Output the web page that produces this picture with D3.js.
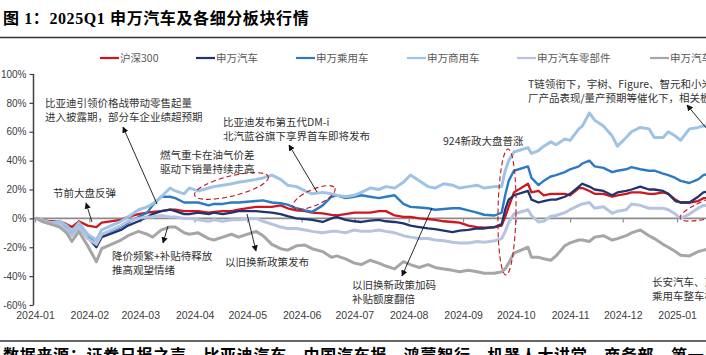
<!DOCTYPE html>
<html><head><meta charset="utf-8">
<script src="https://cdn.jsdelivr.net/npm/d3@7"></script>
<style>
html,body{margin:0;padding:0;background:#fff;overflow:hidden}
svg{display:block}
</style></head>
<body>
<svg id="chart" width="706" height="355"></svg>
<script>
const dates = ["2024-01-02","2024-01-05","2024-01-10","2024-01-15","2024-01-19","2024-01-22","2024-01-26","2024-01-31","2024-02-05","2024-02-08","2024-02-19","2024-02-23","2024-02-29",
"2024-03-05","2024-03-08","2024-03-13","2024-03-18","2024-03-21","2024-03-26","2024-03-29","2024-04-03","2024-04-09","2024-04-12","2024-04-17","2024-04-22","2024-04-26",
"2024-05-06","2024-05-10","2024-05-15","2024-05-20","2024-05-24","2024-05-29","2024-06-03","2024-06-07","2024-06-13","2024-06-18","2024-06-21","2024-06-26",
"2024-07-01","2024-07-05","2024-07-10","2024-07-15","2024-07-19","2024-07-24","2024-07-29","2024-08-02","2024-08-07","2024-08-12","2024-08-16","2024-08-21","2024-08-26","2024-08-30",
"2024-09-04","2024-09-09","2024-09-13","2024-09-19","2024-09-23","2024-09-25","2024-09-27","2024-09-30","2024-10-08","2024-10-10","2024-10-14","2024-10-17","2024-10-21","2024-10-24","2024-10-29",
"2024-11-01","2024-11-06","2024-11-08","2024-11-12","2024-11-15","2024-11-20","2024-11-25","2024-11-28","2024-12-03","2024-12-06","2024-12-11","2024-12-16","2024-12-19","2024-12-24","2024-12-27","2024-12-31",
"2025-01-03","2025-01-08","2025-01-13","2025-01-16","2025-01-20","2025-01-23"];

const hs300 = [0,-1,-2,-2,-4,-6,-2,-5,-6,-3,-1,1,3,
4,4.5,5,6,6,5,5,5,4,4.5,5,5,6,
8,8,8,9,7,5.5,5,4,3.5,2.5,2,3,
4,4,4,5,5,2,1,1,0,-0.5,-1,-2,-2.5,-3,
-5,-6,-6.5,-6,-5,1,8,18,24,18,19,16,17,17,17,
16,21,21,19,17,17,15,16,17,18,18,17,17,18,17,13,
11,11,12,14,14,15];

const swAuto = [0,-2,-4,-4,-7,-11,-6,-13,-20,-13,-8,-5,-2,
1,3,5,6,5,3,3,4,3,4,3,4,5,
5,4.5,4,3,1.5,0,-0.5,-1,-2.5,0,1,-1,
-2,-2.5,-1.5,-1,-2,-2.5,-3.5,-5,-6,-7,-7.5,-8.5,-9.5,-8.5,
-8,-7,-7,-6,-4,6,13,16,19,13,11,12,13,13,15,
17,22,24,22,20,19,16,18,19,20,22,20,20,19,17,12,
11,11,15,18,19,20];

const swPassenger = [0,-2,-4,-4,-7,-11,-5,-12,-18,-11,-6,-3,1,
4,9,15,15,14,11,11,11,9,10,10,11,11,
12,12.5,11,10.5,9.5,7,5.5,4.5,9,15,16,14,
15,16,15,14,15,16,10,8,7.5,7,6,6.5,7,7,
5.5,4,2.5,2,4,16,26,33,36,28,23,26,29,30,32,
34,36,38,40,36,35,32,33,34,35.5,34,33,33,31,30,28,
26,24.5,27,30,31,32];

const swCommercial = [0,-1,-3,-2,-5,-9,-3,-11,-15,-8,-2,1,6,
8,10,15,21,19,17,21,19,21,22,23,24,25,
27,28,30,27,23,22,19,17,18,17,16,15,
16,18,21,20,22,21,25,30,26,22,21,24,23,21,
22,23,21,22,22,33,40,46,49,45,47,50,53,51,55,
54,62,64,73,68,64,57,50,56,60,63,62,56,56,60,57,
54,62,63,64,65,66];

const swParts = [0,-2,-4,-4,-8,-12,-6,-14,-18,-11,-5,-2,0,
1,1,2,1,1,0,0,-1,-2,-1,-2,-1,-1,
0,-2,-4,-6,-7,-7,-8,-9,-10,-9,-9,-10,
-8,-9,-9,-8,-9,-10,-12,-13,-14,-14,-15,-15.5,-16.5,-17,
-17,-16,-16.5,-15.5,-14,-9,-3,3,6,2,-2.5,-2,1.5,2,4,
6,9,10,11,7,8,3.5,5,6,10,9,7,7,7,6,3,
0,3,7,9,9,10];

const swService = [0,-2,-4,-6,-10,-16,-9,-19,-30,-21,-15,-12,-9,
-11,-13,-8,-6,-6,-10,-11,-10,-14,-15,-13,-11,-13,
-9,-12,-18,-21,-22,-19,-18.5,-21,-23,-27,-26,-28,
-31,-32,-29,-31,-33,-35,-30,-32,-34,-32,-34,-35,-36,-37,
-36,-37,-38,-38,-37,-35,-31,-24,-20,-27,-27,-28,-29,-26,-19,
-17,-15,-15,-16,-13,-12,-15,-14,-12,-10,-8,-12,-14,-18,-20,-23,
-25.5,-26,-23,-22,-21,-22];

const seriesNames = ["沪深300","申万汽车","申万乘用车","申万商用车","申万汽车零部件","申万汽车服务"];
const seriesColors = ["#d0161e","#1f3470","#2b7bc4","#9fc3e5","#b6c4e2","#a6a6a6"];
const seriesWidths = [2.3,2.3,2.4,3,3,3];
const seriesValues = [hs300, swAuto, swPassenger, swCommercial, swParts, swService];

const yTicks = [-60,-40,-20,0,20,40,60,80,100];
const monthTicks = ["2024-01","2024-02","2024-03","2024-04","2024-05","2024-06","2024-07","2024-08","2024-09","2024-10","2024-11","2024-12","2025-01","2025-02","2025-03"];

const titleText = "图 1：2025Q1 申万汽车及各细分板块行情";
const sourceText = "数据来源：证券日报之声、比亚迪汽车、中国汽车报、鸿蒙智行、机器人大讲堂、商务部、第一电动网";

const notes = [
  {lines:["比亚迪引领价格战带动零售起量","进入披露期，部分车企业绩超预期"], x:45, y:107},
  {lines:["节前大盘反弹"], x:53, y:197},
  {lines:["燃气重卡在油气价差","驱动下销量持续走高"], x:160, y:159},
  {lines:["比亚迪发布第五代DM-i","北汽蓝谷旗下享界首车即将发布"], x:223, y:126},
  {lines:["924新政大盘普涨"], x:443, y:145},
  {lines:["T链领衔下，宇树、Figure、智元和小米等机器人","厂产品表现/量产预期等催化下，相关板块大涨"], x:528, y:88},
  {lines:["降价频繁+补贴待释放","推高观望情绪"], x:112, y:260},
  {lines:["以旧换新政策发布"], x:225, y:266},
  {lines:["以旧换新政策加码","补贴额度翻倍"], x:352, y:289},
  {lines:["长安汽车、东风汽车筹划重组","乘用车整车板块走强"], x:652, y:286}
];
const arrows = [
  [157,204,123,127],[92,222,86,203],[317,192,289,145],[168,226,163,243],
  [247,214,256,251],[432,208,402,276],[712,135,687,105]
];
const ellipses = [
  {cx:231.5, cy:186, rx:38, ry:10, a:-14},
  {cx:314, cy:197.5, rx:23, ry:8, a:-24},
  {cx:507, cy:212, rx:9, ry:63, a:1},
  {cx:724, cy:204, rx:46, ry:10, a:-18}
];

const svg = d3.select("#chart");
const parse = d3.timeParse("%Y-%m-%d");
const parseM = d3.timeParse("%Y-%m");
const x = d3.scaleTime().domain([new Date(2024,0,1), new Date(2025,3,1)]).range([35, 835]);
const y = d3.scaleLinear().domain([-60,100]).range([305,74]);
const cjk = "'Noto Sans CJK SC','Noto Sans',sans-serif";

// title & rules
svg.append("text").attr("x",3).attr("y",24)
  .attr("font-family","'Liberation Serif','Noto Sans CJK SC',serif")
  .attr("font-weight","bold").attr("font-size",16).attr("letter-spacing",0.6)
  .attr("fill","#000").text(titleText);
svg.append("line").attr("x1",0).attr("x2",706).attr("y1",37.5).attr("y2",37.5)
  .attr("stroke","#333").attr("stroke-width",1.5);
svg.append("line").attr("x1",0).attr("x2",706).attr("y1",341).attr("y2",341)
  .attr("stroke","#333").attr("stroke-width",1.5);
svg.append("text").attr("x",3).attr("y",361)
  .attr("font-family",cjk).attr("font-weight","bold").attr("font-size",16).attr("letter-spacing",0.7)
  .attr("fill","#000").text(sourceText);

// legend
const legX = [100,196,296,407,517,650];
seriesNames.forEach((n,i)=>{
  const g = svg.append("g").attr("transform",`translate(${legX[i]},58)`);
  g.append("line").attr("x1",0).attr("x2",19).attr("y1",0).attr("y2",0)
    .attr("stroke",seriesColors[i]).attr("stroke-width",2.2);
  g.append("text").attr("x",20).attr("y",4).attr("font-family",cjk).attr("font-size",10.5)
    .attr("fill","#595959").text(n);
});

// zero line with month ticks
const xAxis0 = d3.axisBottom(x).tickValues(monthTicks.map(parseM)).tickSize(4).tickFormat("");
const gx0 = svg.append("g").attr("transform",`translate(0,${y(0)})`).call(xAxis0);
gx0.select(".domain").attr("stroke","#8c8c8c").attr("stroke-width",1.6).attr("d",`M34,0H900`);
gx0.selectAll(".tick line").attr("stroke","#8c8c8c").attr("stroke-width",1.2);

// x labels at bottom
const xAxisB = d3.axisBottom(x).tickValues(monthTicks.map(parseM)).tickSize(0).tickPadding(7)
  .tickFormat(d3.timeFormat("%Y-%m"));
const gxb = svg.append("g").attr("transform","translate(0,305)").call(xAxisB);
gxb.select(".domain").remove();
gxb.selectAll("text").attr("font-family","'Liberation Sans',Arial,sans-serif").attr("font-size",10.5).attr("fill","#404040");

// y axis
const yAxis = d3.axisLeft(y).tickValues(yTicks).tickSize(4).tickPadding(3).tickFormat(d=>d+"%");
const gy = svg.append("g").attr("transform","translate(33.5,0)").call(yAxis);
gy.select(".domain").attr("stroke","#404040").attr("stroke-width",1.5).attr("d","M0,74V305");
gy.selectAll(".tick line").attr("stroke","#404040").attr("stroke-width",1.2);
gy.selectAll("text").attr("font-family","'Liberation Sans',Arial,sans-serif").attr("font-size",10).attr("fill","#404040");

// series
const line = d3.line().x((d,i)=>x(parse(dates[i]))).y(d=>y(d));
seriesValues.forEach((vals,i)=>{
  svg.append("path").datum(vals).attr("d",line).attr("fill","none")
    .attr("stroke",seriesColors[i]).attr("stroke-width",seriesWidths[i])
    .attr("stroke-linejoin","round").attr("stroke-linecap","round");
});

// annotations
svg.append("defs").append("marker").attr("id","ah").attr("viewBox","0 0 10 10")
  .attr("refX",9).attr("refY",5).attr("markerWidth",7).attr("markerHeight",7).attr("orient","auto")
  .append("path").attr("d","M0,0L10,5L0,10z").attr("fill","#111");
arrows.forEach(a=>{
  svg.append("line").attr("x1",a[0]).attr("y1",a[1]).attr("x2",a[2]).attr("y2",a[3])
    .attr("stroke","#111").attr("stroke-width",0.9).attr("marker-end","url(#ah)");
});
ellipses.forEach(e=>{
  svg.append("ellipse").attr("cx",0).attr("cy",0).attr("rx",e.rx).attr("ry",e.ry)
    .attr("transform",`translate(${e.cx},${e.cy}) rotate(${e.a})`)
    .attr("fill","none").attr("stroke","#c0141c").attr("stroke-width",1.1).attr("stroke-dasharray","5,3");
});
notes.forEach(n=>{
  n.lines.forEach((t,j)=>{
    svg.append("text").attr("x",n.x).attr("y",n.y+j*14).attr("font-family",cjk)
      .attr("font-size",10.5).attr("fill","#333").text(t);
  });
});
</script>
</body></html>
